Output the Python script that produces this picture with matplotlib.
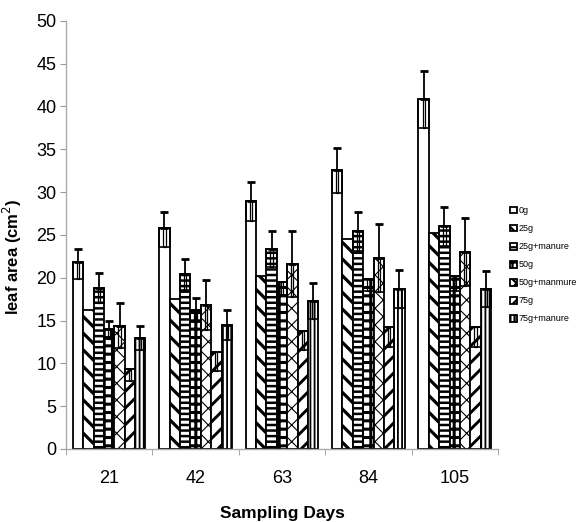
import numpy as np
import matplotlib
matplotlib.use("Agg")
import matplotlib.pyplot as plt

plt.rcParams['font.family'] = ['Liberation Sans', 'DejaVu Sans']
plt.rcParams['hatch.linewidth'] = 1.6

# sampling days (x categories)
days = ['21', '42', '63', '84', '105']

# treatments (legend labels, typo kept as in the original)
names = ['0g', '25g', '25g+manure', '50g', '50g+manmure', '75g', '75g+manure']

# mean leaf area (cm2) per treatment
g0   = [21.8, 25.8, 29.0, 32.6, 40.9]
g25  = [16.2, 17.5, 20.2, 24.5, 25.2]
g25m = [18.8, 20.4, 23.4, 25.4, 26.0]
g50  = [14.0, 16.2, 19.5, 19.9, 20.2]
g50m = [14.4, 16.8, 21.6, 22.3, 23.0]
g75  = [9.3, 11.3, 13.8, 14.3, 14.2]
g75m = [13.0, 14.5, 17.3, 18.7, 18.7]

# upper error (whisker with cap), 0 = not drawn
up0   = [1.6, 1.9, 2.2, 2.5, 3.2]
up25  = [0, 0, 0, 0, 0]
up25m = [1.7, 1.8, 2.1, 2.3, 2.3]
up50  = [1.0, 1.4, 0, 0, 0]
up50m = [2.6, 2.9, 3.9, 4.0, 4.0]
up75  = [0, 0, 0, 0, 0]
up75m = [1.4, 1.7, 2.1, 2.2, 2.1]

# lower error (drawn as a box inside the bar top)
lo0   = [1.9, 2.2, 2.4, 2.7, 3.4]
lo25  = [0, 0, 0, 0, 0]
lo25m = [1.7, 1.8, 2.1, 2.3, 2.3]
lo50  = [1.2, 1.4, 1.5, 1.5, 1.8]
lo50m = [2.6, 2.9, 3.9, 4.0, 4.0]
lo75  = [1.4, 2.2, 2.2, 2.4, 2.3]
lo75m = [1.4, 1.8, 2.1, 2.2, 2.1]

means = [g0, g25, g25m, g50, g50m, g75, g75m]
ups = [up0, up25, up25m, up50, up50m, up75, up75m]
los = [lo0, lo25, lo25m, lo50, lo50m, lo75, lo75m]
hatches = ['', '\\\\', '---', '++', 'xx', '//', '||||']
hatch_lw = [1, 2.3, 1.8, 2.2, 0.8, 2.1, 1.3]

fig = plt.figure(figsize=(5.79, 5.22), dpi=100)
ax = fig.add_axes([0.114, 0.140, 0.746, 0.820])

x = np.arange(len(days))
w = 0.12
handles = []
for i in range(len(names)):
    pos = x + (i - 3) * w
    b = ax.bar(pos, means[i], w, color='white', edgecolor='black',
               linewidth=1.3, hatch=hatches[i], label=names[i], zorder=2)
    for p in b:
        if hasattr(p, 'set_hatch_linewidth'):
            p.set_hatch_linewidth(hatch_lw[i])
    handles.append(b)
    m = np.array(means[i])
    up = np.array(ups[i])
    lo = np.array(los[i])
    # box for the lower part of the error
    k = lo > 0
    if k.any():
        ax.bar(pos[k], lo[k], w, bottom=m[k] - lo[k], facecolor='none',
               edgecolor='black', linewidth=1.2, zorder=3)
        ax.bar(pos[k], lo[k], w * 0.22, bottom=m[k] - lo[k], facecolor='none',
               edgecolor='black', linewidth=0.9, zorder=3)
    k = up > 0
    if k.any():
        ax.errorbar(pos[k], m[k], yerr=[np.zeros(k.sum()), up[k]], fmt='none',
                    ecolor='black', elinewidth=1.3, capsize=3.2, capthick=2,
                    zorder=4)

ax.set_xlim(-0.5, 4.5)
ax.set_ylim(0, 50)
ax.set_yticks(np.arange(0, 51, 5))
ax.set_xticks(x)
ax.set_xticklabels(days)
ax.set_xticks(np.arange(-0.5, 4.6, 1), minor=True)
ax.tick_params(axis='x', which='major', length=0, labelsize=13, pad=15)
ax.tick_params(axis='x', which='minor', length=4, color='#999999', direction='out')
ax.tick_params(axis='y', length=4, color='#999999', labelsize=13, pad=3)

for s in ['top', 'right']:
    ax.spines[s].set_visible(False)
for s in ['left', 'bottom']:
    ax.spines[s].set_color('#aaaaaa')
    ax.spines[s].set_linewidth(1)

ax.set_xlabel('Sampling Days', fontsize=12.5, fontweight='bold', labelpad=14)
ax.set_ylabel('leaf area (cm$^{2}$)', fontsize=12, fontweight='bold')
ax.yaxis.set_label_coords(-0.098, 0.45)

fig.legend(handles=handles, labels=names, loc='upper left',
           bbox_to_anchor=(0.874, 0.612), frameon=False,
           prop={'size': 6.5},
           handlelength=0.8, handleheight=0.8, handletextpad=0.2,
           labelspacing=1.0, borderaxespad=0)

fig.savefig('out.png', dpi=100)
